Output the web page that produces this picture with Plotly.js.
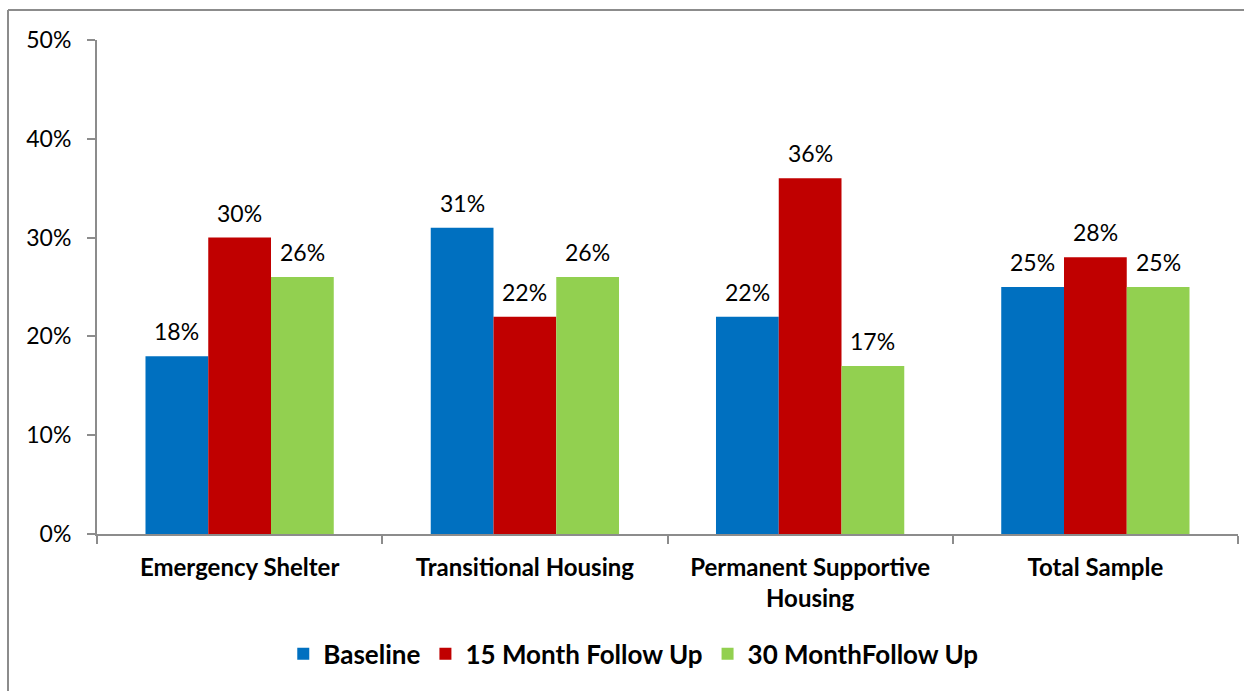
<!DOCTYPE html>
<html><head><meta charset="utf-8">
<script src="https://cdn.plot.ly/plotly-3.0.1.min.js"></script>
<style>html,body{margin:0;padding:0;background:#fff}#chart{width:1244px;height:691px}</style>
</head><body><div id="chart"></div>
<script>
const categories = ["Emergency Shelter", "Transitional Housing", "Permanent Supportive<br>Housing", "Total Sample"];
const seriesNames = ["Baseline", "15 Month Follow Up", "30 MonthFollow Up"];
const baseline = [18, 31, 22, 25];
const followUp15 = [30, 22, 36, 28];
const followUp30 = [26, 26, 17, 25];
const colors = ["#0070C0", "#C00000", "#92D050"];
const yTickVals = [0, 10, 20, 30, 40, 50];

const font = "Lato, Open Sans, sans-serif";
const values = [baseline, followUp15, followUp30];
const traces = values.map((v, i) => ({
  type: "bar", name: seriesNames[i], x: categories, y: v,
  marker: {color: colors[i]}, hoverinfo: "none"
}));

const L = 97, T = 40, W = 1141, H = 494;
const bargap = 0.34;
const barPx = (W / categories.length) * (1 - bargap) / values.length;
const annotations = [];
values.forEach((v, i) => v.forEach((d, j) => annotations.push({
  x: categories[j], y: d, xref: "x", yref: "y", text: d + "%", showarrow: false,
  xshift: (i - 1) * barPx, yshift: 9, yanchor: "bottom",
  font: {family: font, size: 23, color: "#000"}
})));

const layout = {
  width: 1244, height: 691,
  margin: {l: L, r: 1244 - L - W, t: T, b: 691 - T - H},
  paper_bgcolor: "#fff", plot_bgcolor: "#fff",
  barmode: "group", bargap: bargap, bargroupgap: 0,
  font: {family: font, color: "#000"},
  xaxis: {
    type: "category", showline: true, linecolor: "#8c8c8c", linewidth: 2,
    ticks: "outside", tickson: "boundaries", ticklen: 8, tickcolor: "#8c8c8c", tickwidth: 2,
    tickfont: {family: font, size: 24, color: "#000", weight: "bold"},
    ticklabelstandoff: 11,
    showgrid: false, zeroline: false
  },
  yaxis: {
    range: [0, 50], tickvals: yTickVals, ticktext: yTickVals.map(v => v + "%"),
    showline: true, linecolor: "#8c8c8c", linewidth: 2,
    ticks: "outside", ticklen: 8, tickcolor: "#8c8c8c", tickwidth: 2,
    tickfont: {family: font, size: 23, color: "#000"},
    ticklabelstandoff: 11,
    showgrid: false, zeroline: false
  },
  showlegend: true,
  legend: {
    orientation: "h", x: 0.47, xanchor: "center", y: -0.195, yanchor: "top",
    font: {family: font, size: 26, color: "#000", weight: "bold"},
    itemwidth: 30, tracegroupgap: 0
  },
  annotations: annotations,
  shapes: [
    {type: "line", xref: "paper", yref: "paper", x0: (8 - L) / W, x1: (8 - L) / W, y0: 1 + (T - 10) / H, y1: -(691 - T - H) / H, line: {color: "#8c8c8c", width: 2}},
    {type: "line", xref: "paper", yref: "paper", x0: (8 - L) / W, x1: (1244 - L) / W, y0: 1 + (T - 10) / H, y1: 1 + (T - 10) / H, line: {color: "#8c8c8c", width: 2}}
  ]
};
Plotly.newPlot("chart", traces, layout, {displayModeBar: false, staticPlot: true});
</script></body></html>
